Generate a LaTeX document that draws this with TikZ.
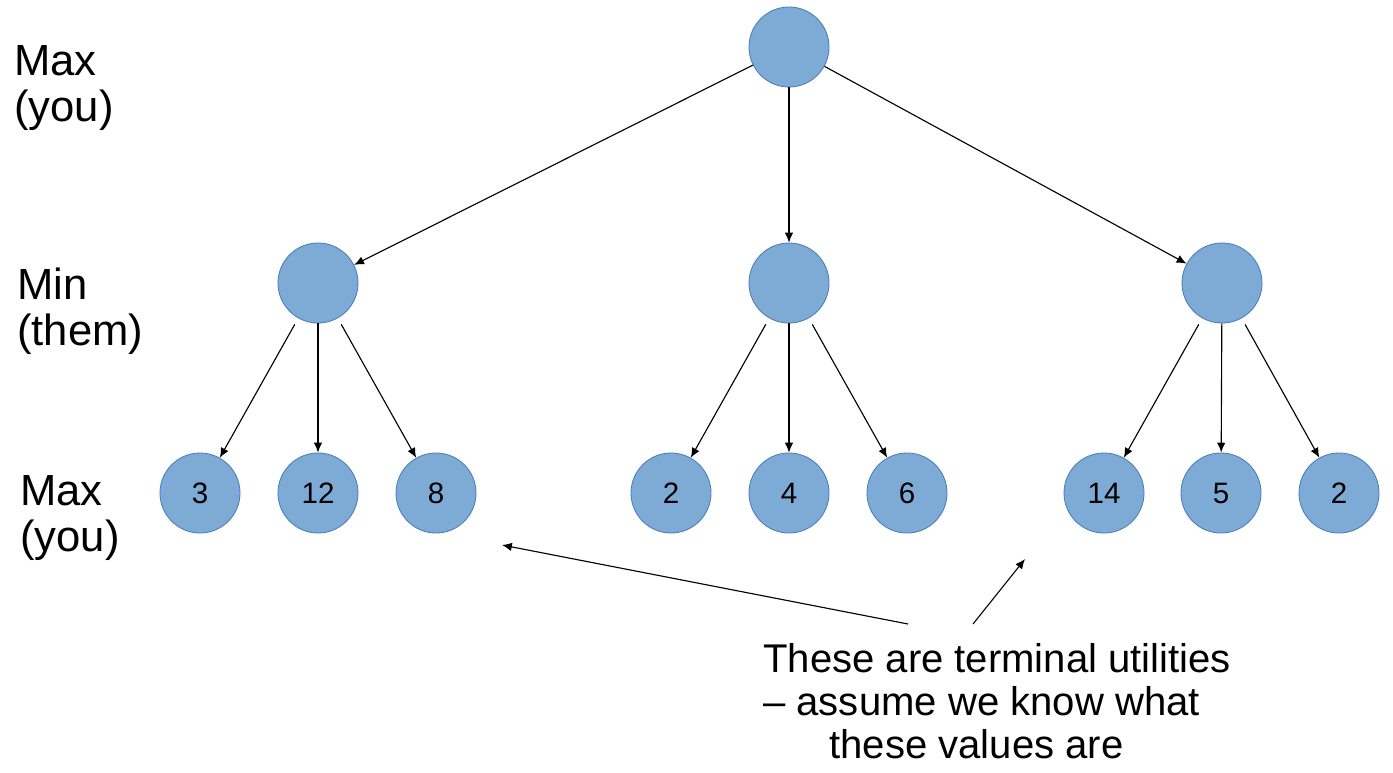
\documentclass[tikz,border=0pt]{standalone}
\usepackage{fontspec}
\setmainfont{Liberation Sans}
\usetikzlibrary{arrows.meta,calc}
\definecolor{nodefill}{RGB}{126,171,214}
\definecolor{nodeline}{RGB}{74,126,187}
\begin{document}
\begin{tikzpicture}[x=0.025cm, y=-0.025cm, >={Latex[length=7pt,width=6pt]},
    gamenode/.style={circle, draw=nodeline, fill=nodefill, line width=0.6pt, minimum size=2cm, inner sep=0pt, font=\fontsize{21}{25}\selectfont},
    lbl/.style={anchor=north west, align=left, inner sep=0pt, font=\fontsize{31}{32.7}\selectfont},
    edge/.style={->, line width=0.8pt}]
    \useasboundingbox (0,0) rectangle (1393,772);

    % Level labels
    \node[lbl] (maxtop) at (14,45) {Max\\(you)};
    \node[lbl] (minmid) at (17,268) {Min\\(them)};
    \node[lbl] (maxbot) at (20,475) {Max\\(you)};

    % Root and min level
    \node[gamenode] (root) at (789,47) {};
    \node[gamenode] (minA) at (318,283) {};
    \node[gamenode] (minB) at (789,283) {};
    \node[gamenode] (minC) at (1222,283) {};

    % Terminal leaves
    \foreach \x/\val/\name in {200/3/a1, 318/12/a2, 436/8/a3, 671/2/b1, 789/4/b2, 907/6/b3, 1104/14/c1, 1221/5/c2, 1339/2/c3} {
        \node[gamenode] (\name) at (\x,493) {\val};
    }

    % Edges
    \foreach \m in {minA, minB, minC} {
        \draw[edge] (root) -- (\m);
    }
    \foreach \m/\l in {minA/a2, minB/b2, minC/c2} {
        \draw[edge] (\m) -- (\l);
    }
    \foreach \m/\l in {minA/a1, minA/a3, minB/b1, minB/b3, minC/c1, minC/c3} {
        \draw[edge, shorten <=5pt] (\m) -- (\l);
    }

    % Annotation
    \node[anchor=north west, align=left, inner sep=0pt, font=\fontsize{28.5}{30.5}\selectfont] (note) at (763,643)
        {These are terminal utilities\\– assume we know what\\\hspace*{47pt}these values are};
    \coordinate (tipA) at (502,545);
    \coordinate (tipB) at (1025,559);
    \draw[edge] ($(note.north west)+(145,-19)$) -- (tipA);
    \draw[edge] ($(note.north west)+(210,-19)$) -- (tipB);
\end{tikzpicture}
\end{document}
